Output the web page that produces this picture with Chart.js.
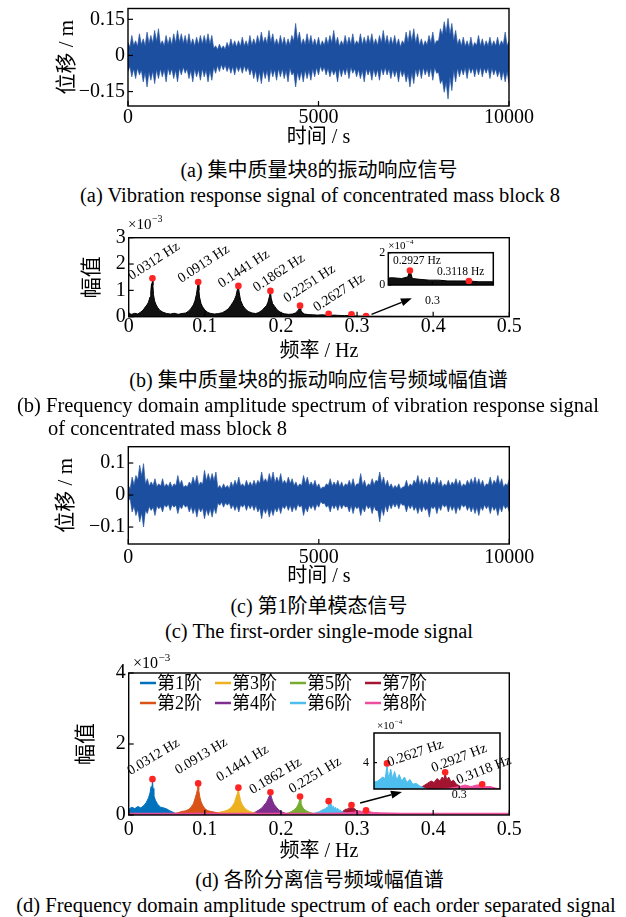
<!DOCTYPE html>
<html>
<head>
<meta charset="utf-8">
<script src="https://cdn.jsdelivr.net/npm/chart.js@4.4.0/dist/chart.umd.min.js"></script>
<style>
  body { margin: 0; background: #fff; width: 626px; height: 917px; position: relative; overflow: hidden; }
  canvas { position: absolute; }
  .cap { position: absolute; white-space: nowrap; font-family: "Liberation Serif", "Noto Sans CJK SC", serif; font-size: 20px; line-height: 20px; color: #000; }
  .en { font-size: 20.5px; }
</style>
</head>
<body>
<canvas id="chartA"></canvas>
<canvas id="chartB"></canvas>
<canvas id="chartBi"></canvas>
<canvas id="chartC"></canvas>
<canvas id="chartD"></canvas>
<canvas id="chartDi"></canvas>
<div id="caps"></div>
<script>
// ---------- data ----------
// time grid of the envelopes (s): spike tips every 100 s, band level in between
const timeS = Array.from({ length: 101 }, (_, i) => i * 100);

// (a) response of mass block 8, unit 1e-3 m
const upperA = [54, 83, 61, 90, 69, 97, 83, 104, 111, 61, 83, 76, 90, 104, 90, 83, 90, 69, 76, 83,
  83, 90, 83, 40, 47, 40, 54, 69, 61, 61, 76, 61, 83, 69, 83, 97, 76, 104, 90, 69,
  83, 76, 69, 83, 133, 97, 69, 90, 83, 69, 76, 61, 76, 83, 104, 76, 61, 83, 76, 90,
  61, 90, 76, 83, 90, 69, 83, 104, 83, 76, 83, 69, 61, 97, 104, 111, 90, 69, 61, 83,
  97, 61, 111, 140, 154, 133, 104, 69, 76, 61, 76, 54, 83, 69, 61, 76, 61, 76, 61, 97, 61];
const lowerA = [-67, -89, -96, -81, -110, -131, -103, -117, -96, -89, -110, -81, -96, -110, -81, -74, -96, -110, -89, -103,
  -89, -110, -103, -74, -67, -60, -67, -74, -81, -67, -74, -67, -81, -96, -110, -117, -96, -110, -89, -103,
  -89, -96, -110, -81, -131, -103, -110, -96, -103, -89, -81, -67, -81, -89, -81, -110, -89, -81, -96, -74,
  -89, -96, -110, -81, -103, -89, -103, -81, -81, -96, -89, -110, -89, -110, -131, -117, -89, -96, -81, -89,
  -103, -74, -117, -153, -181, -146, -110, -89, -81, -96, -74, -89, -81, -89, -74, -96, -81, -89, -103, -110, -117];
const bandUpA = [35, 42, 38, 45, 40, 50, 52, 58, 45, 40, 46, 44, 52, 55, 50, 46, 44, 40, 45, 48,
  50, 48, 30, 25, 28, 26, 33, 38, 36, 38, 40, 38, 42, 44, 50, 52, 50, 55, 44, 42,
  45, 40, 44, 60, 62, 44, 45, 48, 42, 40, 38, 42, 46, 52, 48, 38, 42, 44, 46, 42,
  46, 44, 46, 50, 44, 42, 52, 50, 44, 45, 42, 36, 48, 56, 60, 52, 42, 38, 44, 52,
  45, 60, 85, 95, 88, 62, 45, 40, 38, 36, 34, 42, 40, 36, 40, 38, 40, 38, 45, 40];
const bandLowA = [-45, -55, -52, -60, -70, -68, -65, -58, -55, -58, -52, -55, -60, -52, -48, -55, -62, -55, -58, -55,
  -60, -62, -48, -42, -38, -40, -44, -46, -44, -45, -42, -48, -55, -62, -68, -60, -62, -55, -58, -55,
  -55, -62, -52, -70, -68, -65, -60, -62, -55, -50, -44, -48, -52, -58, -60, -52, -55, -50, -48, -55,
  -58, -62, -55, -58, -56, -58, -52, -50, -55, -58, -60, -58, -65, -75, -70, -55, -52, -50, -55, -52,
  -50, -70, -100, -110, -90, -62, -52, -54, -50, -48, -52, -50, -48, -52, -50, -52, -56, -62, -65, -66];

// (c) first-order single-mode signal, unit 1e-3 m
const upperC = [30, 56, 61, 93, 98, 51, 41, 51, 35, 51, 35, 41, 35, 61, 46, 30, 41, 56, 61, 41,
  77, 67, 67, 72, 30, 35, 30, 41, 46, 56, 35, 46, 41, 46, 46, 72, 51, 67, 72, 56,
  67, 46, 56, 51, 41, 35, 61, 56, 41, 46, 35, 25, 35, 51, 41, 46, 41, 35, 46, 51,
  35, 67, 46, 35, 51, 46, 72, 56, 46, 35, 30, 35, 25, 46, 35, 46, 61, 51, 46, 56,
  41, 56, 46, 35, 46, 41, 51, 46, 35, 46, 51, 56, 51, 46, 35, 56, 46, 61, 51, 35, 51];
const lowerC = [-17, -53, -64, -84, -100, -58, -48, -64, -43, -53, -38, -48, -38, -58, -43, -38, -53, -58, -69, -53,
  -74, -64, -69, -58, -32, -38, -32, -43, -48, -53, -38, -48, -43, -48, -53, -74, -58, -69, -64, -53,
  -58, -43, -48, -53, -48, -38, -64, -53, -43, -48, -38, -27, -38, -53, -43, -48, -43, -38, -53, -58,
  -43, -64, -53, -43, -58, -48, -84, -64, -53, -43, -38, -43, -32, -53, -43, -48, -58, -53, -48, -69,
  -43, -58, -48, -38, -53, -48, -58, -48, -38, -48, -53, -58, -64, -48, -43, -58, -48, -64, -53, -43, -53];
const bandUpC = [20, 32, 48, 60, 35, 28, 30, 26, 28, 25, 26, 24, 30, 32, 24, 26, 32, 36, 30, 34,
  45, 44, 45, 22, 20, 22, 20, 26, 30, 28, 25, 28, 28, 30, 36, 40, 38, 44, 38, 40,
  35, 34, 36, 30, 25, 30, 36, 30, 28, 24, 18, 24, 30, 28, 30, 26, 24, 30, 28, 26,
  34, 30, 24, 30, 32, 42, 36, 28, 24, 20, 22, 18, 26, 24, 28, 36, 32, 30, 32, 30,
  32, 30, 24, 28, 28, 32, 30, 24, 28, 32, 34, 32, 30, 24, 32, 30, 36, 32, 24, 30];
const bandLowC = [-12, -35, -45, -55, -48, -36, -38, -34, -36, -30, -28, -30, -32, -34, -28, -32, -36, -40, -38, -40,
  -44, -42, -40, -26, -22, -24, -24, -30, -32, -30, -28, -30, -30, -32, -40, -42, -40, -44, -40, -36,
  -34, -30, -32, -34, -28, -32, -38, -32, -30, -28, -20, -26, -32, -30, -30, -28, -30, -34, -32, -34,
  -36, -38, -30, -34, -34, -48, -40, -32, -28, -26, -26, -24, -30, -30, -30, -36, -36, -34, -40, -36,
  -34, -34, -28, -30, -32, -34, -34, -28, -30, -34, -36, -38, -36, -30, -32, -34, -38, -36, -30, -34];

// (b) amplitude spectrum of mass block 8, unit 1e-3
const freqB = [0, 0.004, 0.008, 0.012, 0.016, 0.019, 0.022, 0.024, 0.026, 0.028, 0.029, 0.030, 0.0305, 0.0312, 0.0318,
  0.0325, 0.034, 0.036, 0.038, 0.041, 0.045, 0.05, 0.055, 0.06, 0.065, 0.07, 0.075, 0.079, 0.082, 0.085,
  0.087, 0.089, 0.090, 0.0913, 0.0922, 0.093, 0.095, 0.097, 0.1, 0.104, 0.108, 0.113, 0.118, 0.123, 0.127,
  0.131, 0.134, 0.137, 0.139, 0.141, 0.1425, 0.1441, 0.1452, 0.147, 0.15, 0.153, 0.157, 0.162, 0.167, 0.171,
  0.175, 0.178, 0.181, 0.183, 0.185, 0.1862, 0.1872, 0.189, 0.192, 0.195, 0.199, 0.204, 0.21, 0.215, 0.219,
  0.222, 0.224, 0.2251, 0.226, 0.228, 0.231, 0.236, 0.242, 0.248, 0.254, 0.259, 0.2627, 0.265, 0.27, 0.275,
  0.28, 0.284, 0.287, 0.29, 0.292, 0.2927, 0.2935, 0.296, 0.299, 0.302, 0.305, 0.308, 0.3118, 0.315, 0.32,
  0.33, 0.35, 0.4, 0.45, 0.5];
const ampB = [0.12, 0.09, 0.13, 0.1, 0.18, 0.25, 0.38, 0.45, 0.55, 0.75, 0.95, 1.25, 1.05, 1.44, 1.2,
  0.85, 0.6, 0.45, 0.35, 0.24, 0.17, 0.12, 0.1, 0.13, 0.09, 0.12, 0.14, 0.22, 0.32, 0.45,
  0.6, 0.85, 1.05, 1.3, 1.0, 0.75, 0.5, 0.38, 0.25, 0.16, 0.12, 0.1, 0.12, 0.15, 0.22,
  0.3, 0.42, 0.55, 0.65, 0.8, 1.0, 1.15, 0.9, 0.62, 0.42, 0.3, 0.2, 0.14, 0.12, 0.16,
  0.24, 0.33, 0.42, 0.55, 0.78, 0.96, 0.7, 0.5, 0.38, 0.26, 0.17, 0.11, 0.09, 0.1, 0.14,
  0.22, 0.3, 0.4, 0.25, 0.16, 0.1, 0.08, 0.07, 0.06, 0.07, 0.06, 0.1, 0.05, 0.06, 0.05,
  0.045, 0.04, 0.045, 0.04, 0.05, 0.09, 0.04, 0.035, 0.03, 0.03, 0.025, 0.025, 0.025, 0.02, 0.02,
  0.02, 0.018, 0.015, 0.015, 0.015];

// identified modal peaks
const peakFreqs = [0.0312, 0.0913, 0.1441, 0.1862, 0.2251, 0.2627, 0.2927, 0.3118];
const peakAmpB = [1.46, 1.32, 1.17, 0.98, 0.42, 0.11, 0.09, 0.025];
const peakAmpD = [1.01, 0.89, 0.77, 0.64, 0.52, 0.39, 0.28, 0.13];

// (d) spectra of the separated signals, unit 1e-3
const modeNames = ['第1阶', '第2阶', '第3阶', '第4阶', '第5阶', '第6阶', '第7阶', '第8阶'];
const modeColors = ['#0072bd', '#d95319', '#edb120', '#7e2f8e', '#77ac30', '#4dbeee', '#a2142f', '#ee4c9e'];
const freqM1 = [0, 0.004, 0.008, 0.012, 0.016, 0.02, 0.023, 0.026, 0.028, 0.0295, 0.0305, 0.0312, 0.032, 0.033, 0.035, 0.038, 0.042, 0.046, 0.05, 0.054, 0.058, 0.062];
const ampM1 = [0.16, 0.22, 0.18, 0.24, 0.2, 0.27, 0.35, 0.48, 0.62, 0.8, 0.7, 0.98, 0.75, 0.55, 0.42, 0.3, 0.22, 0.2, 0.17, 0.12, 0.08, 0.04];
const freqM2 = [0.058, 0.064, 0.07, 0.075, 0.079, 0.082, 0.085, 0.087, 0.089, 0.0903, 0.0913, 0.092, 0.0935, 0.095, 0.097, 0.1, 0.104, 0.108, 0.113, 0.118, 0.122];
const ampM2 = [0.03, 0.06, 0.1, 0.12, 0.16, 0.22, 0.32, 0.45, 0.6, 0.72, 0.86, 0.7, 0.5, 0.38, 0.28, 0.18, 0.12, 0.1, 0.08, 0.05, 0.03];
const freqM3 = [0.112, 0.118, 0.124, 0.129, 0.133, 0.136, 0.139, 0.141, 0.1428, 0.1441, 0.1452, 0.147, 0.149, 0.152, 0.156, 0.16, 0.165, 0.17];
const ampM3 = [0.03, 0.07, 0.1, 0.13, 0.18, 0.25, 0.35, 0.5, 0.6, 0.74, 0.58, 0.4, 0.3, 0.2, 0.13, 0.09, 0.06, 0.03];
const freqM4 = [0.16, 0.166, 0.171, 0.175, 0.178, 0.181, 0.183, 0.185, 0.1862, 0.1875, 0.189, 0.191, 0.194, 0.197, 0.2, 0.204, 0.209];
const ampM4 = [0.03, 0.08, 0.14, 0.2, 0.28, 0.36, 0.45, 0.55, 0.62, 0.5, 0.4, 0.3, 0.22, 0.15, 0.1, 0.06, 0.03];
const freqM5 = [0.204, 0.21, 0.214, 0.217, 0.22, 0.222, 0.2238, 0.2251, 0.2262, 0.228, 0.23, 0.233, 0.237, 0.241, 0.246];
const ampM5 = [0.03, 0.06, 0.1, 0.14, 0.2, 0.27, 0.36, 0.46, 0.34, 0.24, 0.17, 0.12, 0.08, 0.05, 0.03];
const freqM6 = [0.24, 0.246, 0.251, 0.255, 0.258, 0.2605, 0.2618, 0.2627, 0.2636, 0.2646, 0.2656, 0.2666, 0.2678, 0.269, 0.2703, 0.2717, 0.273, 0.2745, 0.276, 0.2778, 0.28, 0.283, 0.287, 0.292];
const ampM6 = [0.03, 0.06, 0.1, 0.15, 0.17, 0.22, 0.2, 0.37, 0.19, 0.32, 0.2, 0.29, 0.18, 0.25, 0.17, 0.22, 0.15, 0.19, 0.13, 0.14, 0.1, 0.07, 0.05, 0.03];
const freqM7 = [0.274, 0.278, 0.281, 0.2835, 0.2855, 0.287, 0.2885, 0.29, 0.2912, 0.292, 0.2927, 0.2935, 0.2945, 0.2957, 0.297, 0.2985, 0.3, 0.302, 0.305, 0.309];
const ampM7 = [0.03, 0.06, 0.1, 0.14, 0.17, 0.15, 0.2, 0.17, 0.22, 0.19, 0.27, 0.18, 0.22, 0.16, 0.18, 0.13, 0.11, 0.08, 0.05, 0.03];
const freqM8 = [0, 0.1, 0.2, 0.26, 0.285, 0.295, 0.3, 0.303, 0.306, 0.309, 0.3118, 0.3135, 0.316, 0.319, 0.323, 0.33, 0.36, 0.42, 0.5];
const ampM8 = [0.05, 0.05, 0.05, 0.05, 0.06, 0.08, 0.1, 0.12, 0.1, 0.12, 0.12, 0.1, 0.1, 0.08, 0.07, 0.06, 0.05, 0.05, 0.05];
const modeFreqs = [freqM1, freqM2, freqM3, freqM4, freqM5, freqM6, freqM7, freqM8];
const modeAmps = [ampM1, ampM2, ampM3, ampM4, ampM5, ampM6, ampM7, ampM8];

// tick values
const ticksTime = [0, 5000, 10000];
const ticksFreq = [0, 0.1, 0.2, 0.3, 0.4, 0.5];
const ticksA = [-0.15, 0, 0.15];
const ticksC = [-0.1, 0, 0.1];
const ticksB = [0, 1, 2, 3];
const ticksD = [0, 2, 4];

// ---------- helpers ----------
const FONT = '"Liberation Serif", "Noto Sans CJK SC", serif';
const BLUE = '#1c4f9f';
const BLUE_EDGE = '#2f5ca8';
const RED = '#ff2424';

const fmt = v => String(v).replace('-', '\u2212');
const pts = (xs, ys, k = 1) => xs.map((x, i) => ({ x, y: ys[i] * k }));

// spike tips at the grid times, band level half way between them
function spiky(tips, band) {
  const out = [];
  timeS.forEach((t, i) => {
    out.push({ x: t, y: tips[i] / 1000 });
    if (i < band.length) out.push({ x: t + 50, y: band[i] / 1000 });
  });
  return out;
}

function xAxis(o) {
  return {
    type: 'linear', position: 'bottom', min: o.min, max: o.max,
    afterBuildTicks: s => { s.ticks = o.ticks.map(v => ({ value: v })); },
    afterFit: s => { s.height = o.height; },
    grid: { display: false, drawTicks: false },
    border: { display: false },
    ticks: { color: '#000', font: { family: FONT, size: o.size || 20, lineHeight: 1 }, padding: o.pad, maxRotation: 0, autoSkip: false, callback: fmt },
    title: o.title
      ? { display: true, text: o.title, color: '#000', font: { family: FONT, size: 20, lineHeight: 1.2 }, padding: { top: 0, bottom: 0 } }
      : { display: false }
  };
}

function yAxis(o) {
  return {
    type: 'linear', position: 'left', min: o.min, max: o.max,
    afterBuildTicks: s => { s.ticks = o.ticks.map(v => ({ value: v })); },
    afterFit: s => { s.width = o.width; },
    grid: { display: false, drawTicks: false },
    border: { display: false },
    ticks: { color: '#000', font: { family: FONT, size: o.size || 20, lineHeight: 1 }, padding: o.pad, autoSkip: false, callback: fmt },
    title: o.title
      ? { display: true, text: o.title, color: '#000', font: { family: FONT, size: 21, lineHeight: 1.2 }, padding: { top: o.tpad, bottom: 0 } }
      : { display: false }
  };
}

function drawExp(ctx, x, y, exp, size) {
  ctx.fillStyle = '#000';
  ctx.textAlign = 'left';
  ctx.textBaseline = 'alphabetic';
  ctx.font = size + 'px ' + FONT;
  ctx.fillText('\u00d710', x, y);
  const w = ctx.measureText('\u00d710').width;
  ctx.font = Math.round(size * 0.68) + 'px ' + FONT;
  ctx.fillText(exp, x + w + 0.5, y - size * 0.45);
}

// frame, inward ticks, exponent, arrow, peak labels and legend
const decor = {
  id: 'decor',
  beforeDraw(chart, args, o) {
    if (!o.whiteBg) return;
    const a = chart.chartArea, ctx = chart.ctx;
    ctx.save();
    ctx.fillStyle = '#fff';
    ctx.fillRect(a.left, a.top, a.right - a.left, a.bottom - a.top);
    ctx.restore();
  },
  afterDraw(chart, args, o) {
    const { ctx, chartArea: a } = chart;
    const sx = chart.scales.x, sy = chart.scales.y;
    const tl = o.tickLen || 5;
    ctx.save();
    ctx.strokeStyle = '#000';
    ctx.lineWidth = 1.2;
    sx.ticks.forEach(t => {
      const p = sx.getPixelForValue(t.value);
      ctx.beginPath(); ctx.moveTo(p, a.bottom); ctx.lineTo(p, a.bottom - tl); ctx.stroke();
    });
    sy.ticks.forEach(t => {
      const p = sy.getPixelForValue(t.value);
      ctx.beginPath(); ctx.moveTo(a.left, p); ctx.lineTo(a.left + tl, p); ctx.stroke();
    });
    ctx.lineWidth = o.frame || 1.4;
    ctx.strokeRect(a.left, a.top, a.right - a.left, a.bottom - a.top);

    if (o.exp) drawExp(ctx, a.left + o.exp.dx, a.top + o.exp.dy, o.exp.text, o.exp.size);

    if (o.arrow) {
      const x0 = sx.getPixelForValue(o.arrow.from[0]), y0 = sy.getPixelForValue(o.arrow.from[1]);
      const x1 = sx.getPixelForValue(o.arrow.to[0]), y1 = sy.getPixelForValue(o.arrow.to[1]);
      const ang = Math.atan2(y1 - y0, x1 - x0);
      const hl = 11, hw = 4;
      ctx.lineWidth = 1.5;
      ctx.beginPath(); ctx.moveTo(x0, y0);
      ctx.lineTo(x1 - hl * Math.cos(ang), y1 - hl * Math.sin(ang)); ctx.stroke();
      ctx.fillStyle = '#000';
      ctx.beginPath();
      ctx.moveTo(x1, y1);
      ctx.lineTo(x1 - hl * Math.cos(ang) + hw * Math.sin(ang), y1 - hl * Math.sin(ang) - hw * Math.cos(ang));
      ctx.lineTo(x1 - hl * Math.cos(ang) - hw * Math.sin(ang), y1 - hl * Math.sin(ang) + hw * Math.cos(ang));
      ctx.closePath(); ctx.fill();
    }

    if (o.labels) {
      ctx.fillStyle = '#000';
      ctx.textAlign = 'left';
      ctx.textBaseline = 'alphabetic';
      ctx.font = o.labels.size + 'px ' + FONT;
      o.labels.items.forEach(it => {
        const px = sx.getPixelForValue(peakFreqs[it.i]) + it.dx;
        const py = sy.getPixelForValue(o.labels.amps[it.i] * o.labels.k) + it.dy;
        ctx.save();
        ctx.translate(px, py);
        ctx.rotate((it.a || 0) * Math.PI / 180);
        ctx.fillText(peakFreqs[it.i].toFixed(4) + ' Hz', 0, 0);
        ctx.restore();
      });
    }

    if (o.legend) {
      ctx.textAlign = 'left';
      ctx.textBaseline = 'middle';
      ctx.font = '18px ' + FONT;
      chart.data.datasets.forEach(ds => {
        const i = modeNames.indexOf(ds.label);
        if (i < 0) return;
        const x = a.left + o.legend.x + Math.floor(i / 2) * o.legend.col;
        const y = a.top + o.legend.y + (i % 2) * o.legend.row;
        ctx.strokeStyle = ds.borderColor;
        ctx.lineWidth = 2.5;
        ctx.beginPath(); ctx.moveTo(x, y); ctx.lineTo(x + 16, y); ctx.stroke();
        ctx.fillStyle = '#000';
        ctx.fillText(ds.label, x + 17, y + 1);
      });
    }
    ctx.restore();
  }
};

function makeChart(id, box, pad, datasets, scales, decorOpts) {
  const c = document.getElementById(id);
  c.width = box.w; c.height = box.h;
  c.style.left = box.x + 'px'; c.style.top = box.y + 'px';
  c.style.width = box.w + 'px'; c.style.height = box.h + 'px';
  return new Chart(c, {
    type: 'line',
    data: { datasets },
    options: {
      responsive: false, animation: false, events: [],
      layout: { padding: pad },
      scales,
      elements: { point: { radius: 0 }, line: { tension: 0 } },
      plugins: { legend: { display: false }, tooltip: { enabled: false }, decor: decorOpts }
    },
    plugins: [decor]
  });
}

function envelope(up, bandUp, low, bandLow) {
  return [
    { data: spiky(up, bandUp), borderColor: BLUE_EDGE, borderWidth: 0.7, backgroundColor: BLUE, fill: '+1' },
    { data: spiky(low, bandLow), borderColor: BLUE_EDGE, borderWidth: 0.7, fill: false }
  ];
}

function peakDots(amps, k, idx) {
  const sel = idx || peakFreqs.map((_, i) => i);
  return {
    data: sel.map(i => ({ x: peakFreqs[i], y: amps[i] * k })),
    showLine: false, pointRadius: 3.3, pointBackgroundColor: RED, pointBorderWidth: 0, order: -1
  };
}

// ---------- (a) ----------
makeChart('chartA', { x: 40, y: -12, w: 520, h: 162 }, { top: 20.5, right: 51, bottom: 0, left: 0 },
  envelope(upperA, bandUpA, lowerA, bandLowA),
  {
    x: xAxis({ min: 0, max: 10000, ticks: ticksTime, height: 44, pad: 2, title: '时间 / s' }),
    y: yAxis({ min: -0.21, max: 0.195, ticks: ticksA, width: 88, pad: 3, title: '位移 / m', tpad: 14.4 })
  }, {});

// ---------- (b) ----------
makeChart('chartB', { x: 40, y: 212, w: 520, h: 152 }, { top: 25.7, right: 50.7, bottom: 0, left: 0 },
  [
    { data: pts(freqB, ampB), borderColor: '#000', borderWidth: 1, backgroundColor: '#111', fill: 'origin' },
    peakDots(peakAmpB, 1)
  ],
  {
    x: xAxis({ min: 0, max: 0.5, ticks: ticksFreq, height: 47.3, pad: 0, title: '频率 / Hz' }),
    y: yAxis({ min: 0, max: 3, ticks: ticksB, width: 88.7, pad: 3, title: '幅值', tpad: 39.4 })
  },
  {
    exp: { text: '\u22123', dx: -0.7, dy: -8.7, size: 15 },
    arrow: { from: [0.319, 0.09], to: [0.372, 0.70] },
    labels: {
      size: 14, amps: peakAmpB, k: 1,
      items: [
        { i: 0, dx: -21, dy: 2, a: -33 }, { i: 1, dx: -17, dy: 1, a: -33 }, { i: 2, dx: -17, dy: 2, a: -33 },
        { i: 3, dx: -14, dy: 1, a: -33 }, { i: 4, dx: -13, dy: -3, a: -33 }, { i: 5, dx: -12, dy: -2, a: -33 }
      ]
    }
  });

// inset of (b), unit 1e-4
makeChart('chartBi', { x: 360, y: 238, w: 150, h: 71 }, { top: 14.7, right: 16.7, bottom: 0, left: 0 },
  [
    { data: pts(freqB, ampB, 10), borderColor: '#000', borderWidth: 1, backgroundColor: '#111', fill: 'origin' },
    peakDots(peakAmpB, 10, [6, 7])
  ],
  {
    x: xAxis({ min: 0.2857, max: 0.3197, ticks: [0.3], height: 24, pad: 10, size: 12 }),
    y: yAxis({ min: 0, max: 2, ticks: [0, 2], width: 28.3, pad: 3, size: 12 })
  },
  {
    whiteBg: true, tickLen: 3, frame: 1.5,
    exp: { text: '\u22124', dx: 0, dy: -3.7, size: 11 },
    labels: { size: 11.5, amps: peakAmpB, k: 10, items: [{ i: 6, dx: -17, dy: -6, a: 0 }, { i: 7, dx: -32, dy: -6, a: 0 }] }
  });

// ---------- (c) ----------
makeChart('chartC', { x: 40, y: 426, w: 520, h: 163 }, { top: 20.7, right: 50.7, bottom: 0, left: 0 },
  envelope(upperC, bandUpC, lowerC, bandLowC),
  {
    x: xAxis({ min: 0, max: 10000, ticks: ticksTime, height: 45, pad: 4, title: '时间 / s' }),
    y: yAxis({ min: -0.153, max: 0.151, ticks: ticksC, width: 88.3, pad: 3, title: '位移 / m', tpad: 13.4 })
  }, {});

// ---------- (d) ----------
function modeSets(k) {
  return modeFreqs.map((f, i) => ({
    label: modeNames[i], data: pts(f, modeAmps[i], k),
    borderColor: modeColors[i], borderWidth: 1, backgroundColor: modeColors[i], fill: 'origin',
    order: i === 7 ? 0 : 1
  }));
}

makeChart('chartD', { x: 40, y: 648, w: 520, h: 216 }, { top: 25, right: 50.7, bottom: 0, left: 0 },
  [...modeSets(1), peakDots(peakAmpD, 1)],
  {
    x: xAxis({ min: 0, max: 0.5, ticks: ticksFreq, height: 49, pad: 5, title: '频率 / Hz' }),
    y: yAxis({ min: 0, max: 4, ticks: ticksD, width: 88.7, pad: 3, title: '幅值', tpad: 33.4 })
  },
  {
    exp: { text: '\u22123', dx: 4.3, dy: -5, size: 16 },
    arrow: { from: [0.304, 0.34], to: [0.359, 0.65] },
    legend: { x: 11.3, y: 10, col: 75, row: 20 },
    labels: {
      size: 14, amps: peakAmpD, k: 1,
      items: [
        { i: 0, dx: -22, dy: -4, a: -31 }, { i: 1, dx: -20, dy: -9, a: -31 }, { i: 2, dx: -19, dy: -6, a: -31 },
        { i: 3, dx: -18, dy: 2, a: -31 }, { i: 4, dx: -8, dy: -3, a: -31 }
      ]
    }
  });

// inset of (d), unit 1e-4
makeChart('chartDi', { x: 345, y: 715, w: 175, h: 92 }, { top: 18, right: 20, bottom: 0, left: 0 },
  [...modeSets(10).slice(5), peakDots(peakAmpD, 10, [5, 6, 7])],
  {
    x: xAxis({ min: 0.256, max: 0.321, ticks: [0.3], height: 18, pad: 0, size: 12 }),
    y: yAxis({ min: 0.7, max: 7.7, ticks: [4], width: 29, pad: 5, size: 12 })
  },
  {
    whiteBg: true, tickLen: 3, frame: 1.5,
    exp: { text: '\u22124', dx: 3, dy: -4, size: 11 },
    labels: {
      size: 14, amps: peakAmpD, k: 10,
      items: [{ i: 5, dx: 2, dy: 3, a: -19 }, { i: 6, dx: -12, dy: 0, a: -21 }, { i: 7, dx: -24, dy: 0, a: -21 }]
    }
  });

// ---------- captions ----------
const captions = [
  { t: '(a) 集中质量块8的振动响应信号', cx: 319, y: 170 },
  { t: '(a) Vibration response signal of concentrated mass block 8', cx: 320, y: 195, en: true },
  { t: '(b) 集中质量块8的振动响应信号频域幅值谱', cx: 318.5, y: 380 },
  { t: '(b) Frequency domain amplitude spectrum of vibration response signal', left: 17, y: 405, en: true },
  { t: 'of concentrated mass block 8', left: 48, y: 428, en: true },
  { t: '(c) 第1阶单模态信号', cx: 319, y: 606 },
  { t: '(c) The first-order single-mode signal', cx: 319, y: 631, en: true },
  { t: '(d) 各阶分离信号频域幅值谱', cx: 319.5, y: 880 },
  { t: '(d) Frequency domain amplitude spectrum of each order separated signal', cx: 316, y: 905, en: true }
];
const capBox = document.getElementById('caps');
captions.forEach(c => {
  const d = document.createElement('div');
  d.className = c.en ? 'cap en' : 'cap';
  d.textContent = c.t;
  d.style.top = (c.y - 10) + 'px';
  if (c.left !== undefined) {
    d.style.left = c.left + 'px';
  } else {
    d.style.left = (c.cx - 400) + 'px';
    d.style.width = '800px';
    d.style.textAlign = 'center';
  }
  capBox.appendChild(d);
});
</script>
</body>
</html>
